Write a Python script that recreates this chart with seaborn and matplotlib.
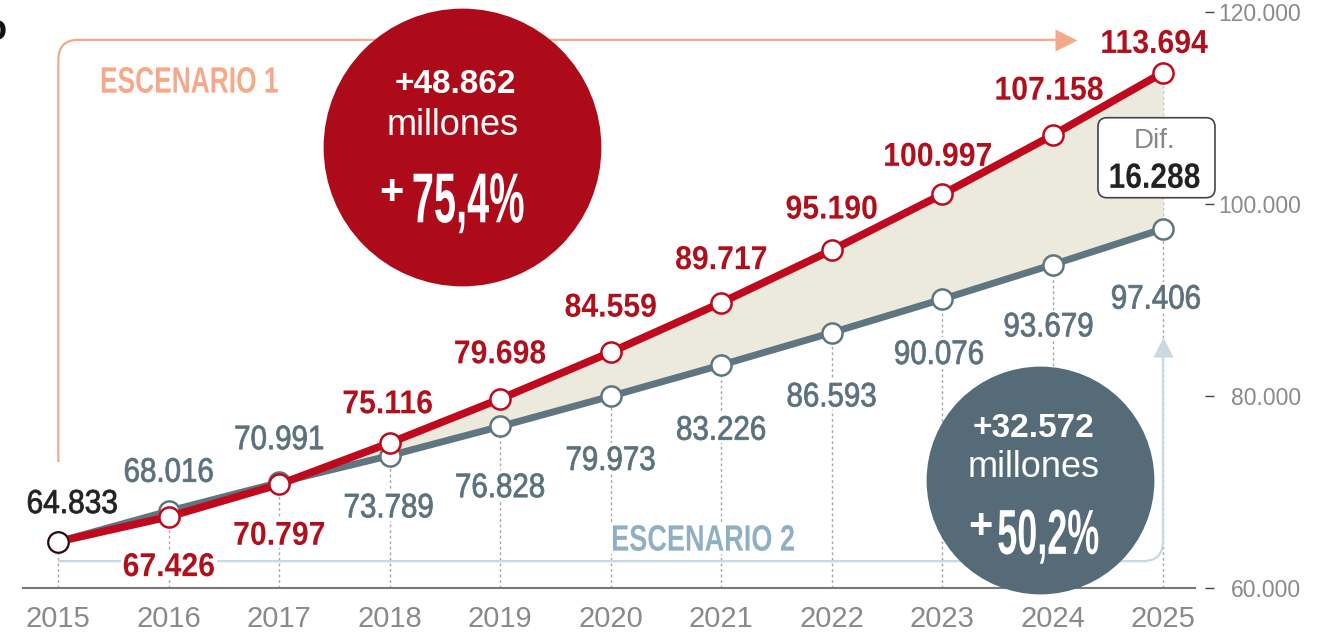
import numpy as np
import pandas as pd
import matplotlib
matplotlib.use("Agg")
import matplotlib.pyplot as plt
import seaborn as sns
from matplotlib.path import Path
from matplotlib.patches import PathPatch, FancyBboxPatch, Rectangle
from matplotlib.textpath import TextPath
from matplotlib.font_manager import FontProperties
from matplotlib.transforms import Affine2D, ScaledTranslation

# data
years = [2015, 2016, 2017, 2018, 2019, 2020, 2021, 2022, 2023, 2024, 2025]
escenario1 = [64833, 67426, 70797, 75116, 79698, 84559, 89717, 95190, 100997, 107158, 113694]
escenario2 = [64833, 68016, 70991, 73789, 76828, 79973, 83226, 86593, 90076, 93679, 97406]
ytick_vals = [60000, 80000, 100000, 120000]
ytick_labels = ["60.000", "80.000", "100.000", "120.000"]
esc1_summary = ["+48.862", "millones", "75,4%"]
esc2_summary = ["+32.572", "millones", "50,2%"]
dif_label = ["Dif.", "16.288"]

RED = "#c0091c"
RED_TXT = "#b0101c"
RED_CIRCLE = "#ad0b19"
GREY = "#5f7580"
GREY_TXT = "#5b717d"
GREY_CIRCLE = "#566b78"
BEIGE = "#ebeadd"
ORANGE = "#f4aa8a"
LIGHTBLUE = "#c9d8e1"
LIGHTBLUE_TXT = "#8fb0c3"

sns.set_style("white")
REG = ["Liberation Sans", "DejaVu Sans"]
plt.rcParams["font.family"] = REG

df = pd.DataFrame({"year": years, "esc1": escenario1, "esc2": escenario2})


def fmt(v):
    return f"{v:,}".replace(",", ".")


def px(v):
    # pixels -> points (dpi 100)
    return v * 0.72


fig = plt.figure(figsize=(13.18, 6.41), dpi=100)
ax = fig.add_axes([23 / 1318, 53 / 641, 1172 / 1318, 576 / 641])


def ctext(xy, s, h, sx=None, w=None, dx=0, dy=0, color="k", weight="normal",
          bg=False, z=2.5, stroke=0):
    """condensed text: glyph outlines squeezed horizontally, sizes in pixels"""
    fp = FontProperties(family=REG, weight=weight)
    tp = TextPath((0, 0), s, size=100, prop=fp)
    ref = TextPath((0, 0), "0", size=100, prop=fp).get_extents()
    bb = tp.get_extents()
    k = h / ref.height
    if w is not None:
        sx = w / (bb.width * k)
    cx, cy = (bb.x0 + bb.x1) / 2, (ref.y0 + ref.y1) / 2
    tr = (Affine2D().translate(-cx, -cy).scale(k * sx, k).translate(dx, dy)
          + ScaledTranslation(xy[0], xy[1], ax.transData))
    if bg:
        padx, pady = 3 / (k * sx), 3 / k
        ax.add_patch(Rectangle((bb.x0 - padx, min(bb.y0, ref.y0) - pady),
                               bb.width + 2 * padx, max(bb.y1, ref.y1) - min(bb.y0, ref.y0) + 2 * pady,
                               transform=tr, fc="white", ec="none", zorder=z - 0.01, clip_on=False))
    ax.add_patch(PathPatch(tp, transform=tr, fc=color, ec=color if stroke else "none",
                           lw=stroke, zorder=z, clip_on=False))


# dotted guides
ax.vlines(df["year"], 60000, df[["esc1", "esc2"]].max(axis=1), colors="#a8a8a8",
          lw=1, linestyles=(0, (2, 2)), zorder=0.5)

# gap between scenarios
ax.fill_between(df["year"], df["esc2"], df["esc1"], color=BEIGE, lw=0, zorder=1)

# scenario brackets
r_x, r_y = 0.18, 2083
top = 117100
p1 = Path([(2015, 73125), (2015, top - r_y), (2015, top), (2015 + r_x, top), (2024.03, top)],
          [Path.MOVETO, Path.LINETO, Path.CURVE3, Path.CURVE3, Path.LINETO])
ax.add_patch(PathPatch(p1, fc="none", ec=ORANGE, lw=1.6, zorder=1.5, clip_on=False))
ax.plot([2024.12], [top], marker=">", ms=16, color=ORANGE, mec="none", zorder=1.5, clip_on=False)

bot = 62800
p2 = Path([(2015, bot), (2025 - r_x, bot), (2025, bot), (2025, bot + r_y), (2025, 84300)],
          [Path.MOVETO, Path.LINETO, Path.CURVE3, Path.CURVE3, Path.LINETO])
ax.add_patch(PathPatch(p2, fc="none", ec=LIGHTBLUE, lw=1.6, zorder=1.5, clip_on=False))
ax.plot([2025], [85150], marker="^", ms=15, color=LIGHTBLUE, mec="none", zorder=1.5, clip_on=False)

ctext((2016.19, 112917), "ESCENARIO 1", h=26, w=176, color=ORANGE, weight="bold", z=2)
ctext((2020.84, 65208), "ESCENARIO 2", h=26, w=181, color=LIGHTBLUE_TXT, weight="bold",
      bg=True, z=2.5)

# lines
sns.lineplot(data=df, x="year", y="esc2", ax=ax, color=GREY, lw=5, marker="o", ms=14.5,
             mfc="white", mec=GREY, mew=1.8, zorder=3)
sns.lineplot(data=df, x="year", y="esc1", ax=ax, color=RED, lw=5.5, marker="o", ms=14.5,
             mfc="white", mec=RED, mew=1.8, zorder=4)
ax.plot(df["year"][:1], df["esc1"][:1], "o", ms=14.5, mfc="white", mec="#111", mew=1.3, zorder=4.5)

# value labels
red_off = [(14, 40), (0, -48), (0, -49), (-2, 41), (0, 47), (0, 47), (0, 45), (0, 43), (-4, 40), (-3, 47), (-8, 31)]
grey_off = [None, (0, 41), (0, 45), (-1, -50), (0, -59), (0, -62), (0, -63), (0, -62), (-3, -53), (-4, -60), (-7, -68)]
for i, (x, v) in enumerate(zip(years, escenario1)):
    if i == 0:
        ctext((x, v), fmt(v), h=23.5, sx=0.9, dx=red_off[i][0], dy=red_off[i][1],
              color="#222222", bg=True, stroke=0.6)
    else:
        ctext((x, v), fmt(v), h=23.5, sx=0.91, dx=red_off[i][0], dy=red_off[i][1],
              color=RED_TXT, weight="bold", bg=True)
for i, (x, v) in enumerate(zip(years, escenario2)):
    if grey_off[i] is None:
        continue
    ctext((x, v), fmt(v), h=24, sx=0.87, dx=grey_off[i][0], dy=grey_off[i][1],
          color=GREY_TXT, bg=True, stroke=0.6)

# summary circles
for c, size, col, txt, offs, pct in [
        ((2018.65, 105940), 200, RED_CIRCLE, esc1_summary,
         [(-6, 62), (-9, 21), (-70, -46)], (7, -51, 110, 50)),
        ((2023.89, 71250), 164, GREY_CIRCLE, esc2_summary,
         [(-7, 51), (-7, 12), (-60, -47)], (8, -52, 100, 45))]:
    ax.scatter([c[0]], [c[1]], s=size ** 2, color=col, lw=0, zorder=6, clip_on=False)
    ax.annotate(txt[0], c, xytext=(px(offs[0][0]), px(offs[0][1])), textcoords="offset points",
                ha="center", va="center", fontsize=24, fontweight="bold", color="white",
                zorder=8, annotation_clip=False)
    ax.annotate(txt[1], c, xytext=(px(offs[1][0]), px(offs[1][1])), textcoords="offset points",
                ha="center", va="center", fontsize=26, color="white", zorder=8,
                annotation_clip=False)
    ax.annotate("+", c, xytext=(px(offs[2][0]), px(offs[2][1])), textcoords="offset points",
                ha="center", va="center", fontsize=30, fontweight="bold", color="white",
                zorder=8, annotation_clip=False)
    ctext(c, txt[2], h=pct[3], w=pct[2], dx=pct[0], dy=pct[1], color="white",
          weight="bold", z=8)

# difference box
mid = (escenario1[-1] + escenario2[-1]) / 2
box_tr = ScaledTranslation(years[-1], mid, ax.transData)
ax.add_patch(FancyBboxPatch((-65, -47), 117, 80, boxstyle="round,pad=0,rounding_size=9",
                            fc="white", ec="#444444", lw=1.2, transform=box_tr,
                            zorder=7, clip_on=False))
ax.annotate(dif_label[0], (years[-1], mid), xytext=(px(-8), px(10)), textcoords="offset points",
            ha="center", va="center", fontsize=20, color="#888888", zorder=8, annotation_clip=False)
ctext((years[-1], mid), dif_label[1], h=25, w=89, dx=-8, dy=-25, color="#222222",
      weight="bold", z=8)

# axes
ax.set_xlim(2014.68, 2025.29)
ax.set_ylim(60000, 120000)
ax.set_xlabel("")
ax.set_ylabel("")
ax.set_xticks(years)
ax.set_xticklabels([str(y) for y in years])
ax.tick_params(axis="x", length=0, pad=12, labelsize=21, labelcolor="#8a8a8a")
ax.set_yticks(ytick_vals)
ax.set_yticklabels(ytick_labels)
ax.yaxis.tick_right()
ax.spines["right"].set_position(("outward", 7))
ax.tick_params(axis="y", length=6.5, width=1, color="#444444", pad=63, labelsize=16.5,
               labelcolor="#8a8a8a", direction="out")
for t in ax.get_yticklabels():
    t.set_ha("right")
for s in ["top", "left", "right"]:
    ax.spines[s].set_visible(False)
ax.spines["bottom"].set_color("#777777")
ax.spines["bottom"].set_linewidth(1.5)

fig.text(-15 / 1318, 0.953, "o", fontsize=26, fontweight="bold", color="#111", va="center", ha="left")

fig.savefig("out.png", dpi=100)
